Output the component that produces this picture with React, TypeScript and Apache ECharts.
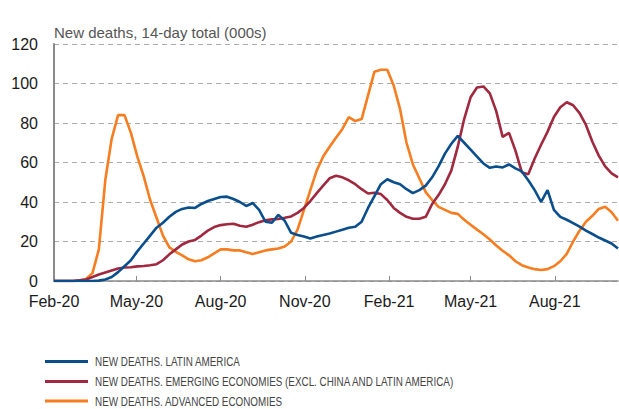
import React, { useEffect, useRef } from "react";
import * as echarts from "echarts";

// Weekly observations starting 1 Feb 2020 (index i => start + 7*i days)
const startYear = 2020;
const startMonth = 1; // February (0-based)
const startDay = 1;
const stepDays = 7;

const latinAmerica = [
  0, 0, 0, 0, 0, 0, 0, 0.2, 0.8, 2, 4.5, 7.5, 10.5, 15, 19, 23, 27, 29.5, 32.5, 35,
  36.5, 37.2, 37, 39, 40.5, 41.5, 42.5, 42.7, 41.5, 40, 38, 39.5, 36, 30, 29.5, 33.5, 30.5, 24.4, 23.3, 22.5,
  21.5, 22.5, 23.3, 24, 25, 26, 27, 27.5, 30, 37, 43, 49, 51.5, 50, 49, 46.5, 44.5, 46, 48.3, 52.5,
  58, 64.5, 69.5, 73.5, 70, 66.5, 63, 59.5, 57.3, 58, 57.5, 59, 57, 55.5, 51, 46, 40, 46, 36, 32.5,
  31, 29.3, 27.5, 25.5, 23.8, 22, 20.5, 19, 16.5,
];

const emergingEconomies = [
  0, 0, 0, 0, 0.3, 0.8, 2, 3.3, 4.3, 5.3, 6.3, 6.8, 7, 7.4, 7.6, 8, 8.5, 10.5, 13.5, 16,
  18.5, 20, 20.8, 23, 25.5, 27.3, 28.3, 28.7, 29, 28, 27.5, 28.5, 29.8, 30.8, 31.2, 31.4, 32, 32.7, 34.5, 37,
  40.5, 44.5, 48.3, 52, 53.3, 52.5, 51, 49, 46.5, 44.3, 44.7, 44, 41, 37, 34.5, 32.5, 31.5, 31.5, 32.5, 39,
  43.5, 49, 56, 68, 82, 93, 98, 98.5, 95, 86, 73, 75, 66, 55, 54, 62, 69, 75.5, 83, 88,
  90.5, 89, 85, 79, 70.5, 63.5, 58, 54.5, 52.5,
];

const advancedEconomies = [
  0, 0, 0, 0, 0.3, 1, 4, 16, 51, 72, 84, 84, 75, 63, 53, 41, 32, 23, 17, 14.8,
  13, 11, 10, 10.5, 12, 14, 16, 16, 15.5, 15.5, 14.5, 13.7, 14.5, 15.5, 16, 16.5, 17.5, 20, 26, 36,
  46, 56, 63, 68, 72.5, 77, 83, 81, 82, 94, 106, 107, 107, 99, 87, 70, 59, 52, 45, 41,
  37.5, 36, 34.5, 34, 31, 28.5, 26, 23.7, 21, 18, 15.3, 13, 10, 8, 6.8, 6, 5.6, 6, 7.5, 10,
  13.7, 20, 25.5, 30, 33, 36.5, 37.6, 34.8, 30.5,
];

const tickMonths: [number, number][] = [
  [2020, 1], [2020, 4], [2020, 7], [2020, 10], [2021, 1], [2021, 4], [2021, 7],
];
const monthNames = ["Jan", "Feb", "Mar", "Apr", "May", "Jun", "Jul", "Aug", "Sep", "Oct", "Nov", "Dec"];

const seriesNames = [
  "NEW DEATHS. LATIN AMERICA",
  "NEW DEATHS. EMERGING ECONOMIES (EXCL. CHINA AND LATIN AMERICA)",
  "NEW DEATHS. ADVANCED ECONOMIES",
];
const colors = ["#0B4E8C", "#A0283F", "#F67D20"];
const yTitle = "New deaths, 14-day total (000s)";

const DAY = 86400000;
const startTime = Date.UTC(startYear, startMonth, startDay);
const dayOf = (y: number, m: number) => Math.round((Date.UTC(y, m, 1) - startTime) / DAY);
const toPairs = (arr: number[]) => arr.map((v, i) => [i * stepDays, v]);

export default function App() {
  const ref = useRef<HTMLDivElement>(null);
  useEffect(() => {
    if (!ref.current) return;
    document.body.style.margin = "0";
    const chart = echarts.init(ref.current, undefined, { renderer: "svg" });
    const ticks = tickMonths.map(([y, m]) => dayOf(y, m));
    const font = "'Liberation Sans', Arial, Helvetica, sans-serif";
    const legendRows = [361.5, 381.5, 401];
    const legendGraphics: any[] = [];
    seriesNames.forEach((name, k) => {
      legendGraphics.push({
        type: "rect",
        left: 45,
        top: legendRows[k] - 1.5,
        shape: { width: 43, height: 3 },
        style: { fill: colors[k] },
      });
      legendGraphics.push({
        type: "text",
        x: 95,
        y: legendRows[k],
        scaleX: 0.76,
        style: {
          text: name,
          fill: "#444",
          font: "13px " + font,
          verticalAlign: "middle",
          align: "left",
        },
      });
    });
    chart.setOption({
      animation: false,
      textStyle: { fontFamily: font },
      title: {
        text: yTitle,
        left: 49,
        top: 20,
        textStyle: { fontSize: 15, color: "#555", fontWeight: "normal", fontFamily: font },
      },
      grid: { left: 54, right: 1, top: 44, bottom: 128, containLabel: false },
      xAxis: {
        type: "value",
        min: 0,
        max: (latinAmerica.length - 1) * stepDays,
        axisLine: { show: true, lineStyle: { color: "#8a8a8a", width: 1.5 } },
        axisTick: { show: true, inside: true, length: 5, customValues: ticks, lineStyle: { color: "#8a8a8a" } },
        axisLabel: {
          customValues: ticks,
          fontSize: 16,
          color: "#1a1a1a",
          margin: 12,
          formatter: (val: number) => {
            const d = new Date(startTime + val * DAY);
            return monthNames[d.getUTCMonth()] + "-" + String(d.getUTCFullYear()).slice(2);
          },
        },
        splitLine: { show: false },
      },
      yAxis: {
        type: "value",
        min: 0,
        max: 120,
        interval: 20,
        axisLine: { show: true, lineStyle: { color: "#8a8a8a", width: 2 } },
        axisTick: { show: false },
        axisLabel: { fontSize: 16, color: "#1a1a1a", margin: 16 },
        splitLine: { show: true, lineStyle: { type: [5, 4], color: "#ababab", width: 1 } },
      },
      graphic: legendGraphics,
      series: [latinAmerica, emergingEconomies, advancedEconomies].map((arr, k) => ({
        name: seriesNames[k],
        type: "line",
        data: toPairs(arr),
        showSymbol: false,
        symbol: "none",
        lineStyle: { color: colors[k], width: 2.6 },
        itemStyle: { color: colors[k] },
        z: 3 - k,
      })),
    });
    return () => chart.dispose();
  }, []);
  return <div ref={ref} style={{ width: 619, height: 409 }} />;
}
